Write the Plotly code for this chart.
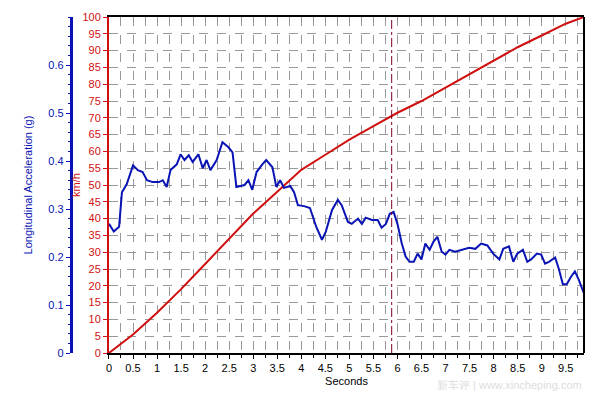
import plotly.graph_objects as go

speed_t = [0, 0.5, 1, 1.5, 2, 2.5, 3, 3.5, 4, 4.5, 5, 5.5, 6, 6.5, 7, 7.5, 8, 8.5, 9, 9.5, 9.88]
speed_kmh = [0, 5.5, 12, 19, 26.5, 34, 41.5, 48, 54.5, 59, 63.5, 67.5, 71.5, 75, 79, 83, 87, 91, 94.5, 98, 100]

acc_t = [0.00,0.10,0.21,0.27,0.37,0.50,0.60,0.70,0.79,0.91,1.04,1.12,1.20,1.28,1.41,1.49,1.57,1.66,1.74,1.86,
         1.95,2.03,2.11,2.24,2.36,2.48,2.57,2.65,2.82,2.90,2.98,3.07,3.19,3.27,3.40,3.48,3.56,3.64,3.77,3.85,
         3.93,4.06,4.18,4.31,4.43,4.51,4.64,4.76,4.84,4.97,5.05,5.18,5.26,5.34,5.47,5.59,5.67,5.76,5.84,5.92,
         6.00,6.09,6.17,6.25,6.34,6.42,6.50,6.58,6.67,6.75,6.83,6.92,7.00,7.08,7.20,7.33,7.49,7.62,7.74,7.87,
         7.99,8.12,8.20,8.32,8.41,8.49,8.61,8.70,8.78,8.90,8.99,9.07,9.15,9.28,9.36,9.44,9.52,9.61,9.69,9.77,9.88]
acc_g = [0.269,0.253,0.263,0.335,0.352,0.391,0.381,0.377,0.360,0.356,0.356,0.360,0.346,0.381,0.393,0.414,0.402,0.412,0.398,0.414,
         0.385,0.402,0.381,0.402,0.439,0.429,0.418,0.346,0.350,0.360,0.340,0.377,0.393,0.402,0.387,0.346,0.360,0.344,0.348,0.335,
         0.308,0.306,0.302,0.263,0.236,0.253,0.298,0.319,0.308,0.273,0.269,0.280,0.269,0.282,0.277,0.277,0.261,0.269,0.290,0.294,
         0.269,0.228,0.201,0.190,0.190,0.207,0.195,0.228,0.215,0.232,0.242,0.211,0.205,0.215,0.211,0.215,0.219,0.217,0.228,0.224,
         0.207,0.195,0.217,0.222,0.190,0.207,0.215,0.190,0.195,0.207,0.205,0.186,0.190,0.199,0.174,0.143,0.143,0.159,0.170,0.153,0.124]
acc_ticks = [0, 0.1, 0.2, 0.3, 0.4, 0.5, 0.6]
marker_t = 5.88

RED = "#d01010"
BLUE = "#0a14b4"
font = dict(family="Liberation Sans, Arial", size=11)

fig = go.Figure()
fig.add_trace(go.Scatter(x=speed_t, y=speed_kmh, mode="lines", line=dict(color=RED, width=2), yaxis="y"))
fig.add_trace(go.Scatter(x=acc_t, y=acc_g, mode="lines", line=dict(color=BLUE, width=2), yaxis="y2"))

fig.add_shape(type="line", xref="x", yref="paper", x0=marker_t, x1=marker_t, y0=0, y1=1,
              line=dict(color="#800020", width=1, dash="dashdot"))
fig.add_shape(type="line", xref="paper", yref="paper", x0=1, x1=1, y0=0, y1=1,
              line=dict(color="black", width=2))

fig.update_layout(
    width=600, height=400, margin=dict(l=0, r=24, t=9, b=55, autoexpand=False),
    paper_bgcolor="white", plot_bgcolor="white", showlegend=False, font=font,
    xaxis=dict(domain=[0.1753, 1], range=[0, 9.88], dtick=0.5, tick0=0, showline=True, linecolor="black",
               linewidth=2, mirror=True, ticks="outside", ticklen=4, tickcolor="black", automargin=False,
               showgrid=True, gridcolor="#999", griddash="dash", gridwidth=1, zeroline=False,
               minor=dict(dtick=0.25, showgrid=True, gridcolor="#999", griddash="dash", ticks="outside", ticklen=3),
               title=dict(text="Seconds", standoff=4, font=dict(color="black", size=11)),
               tickfont=dict(color="black")),
    yaxis=dict(range=[0, 100], dtick=5, showline=True, linecolor=RED, linewidth=2, ticks="outside",
               ticklen=4, tickcolor=RED, tickfont=dict(color=RED), showgrid=True, gridcolor="#999",
               griddash="dash", zeroline=False, automargin=False,
               title=dict(text="km/h", standoff=0, font=dict(color=RED, size=11))),
    yaxis2=dict(range=[0, 0.7], tickvals=acc_ticks, overlaying="y", anchor="free", position=0.109, side="left",
                showline=True, linecolor=BLUE, linewidth=3, ticks="outside", ticklen=4, tickcolor=BLUE,
                tickfont=dict(color=BLUE), showgrid=False, zeroline=False, automargin=False,
                minor=dict(dtick=0.02, ticks="outside", ticklen=2, tickcolor=BLUE),
                title=dict(text="Longitudinal Acceleration (g)", font=dict(color=BLUE, size=11), standoff=12)),
)
fig.add_annotation(text="新车评 | www.xincheping.com", xref="paper", yref="paper", x=1.0, y=-0.12,
                   xanchor="right", showarrow=False, font=dict(color="#dddddd", size=11))
fig.write_html("out.html")
